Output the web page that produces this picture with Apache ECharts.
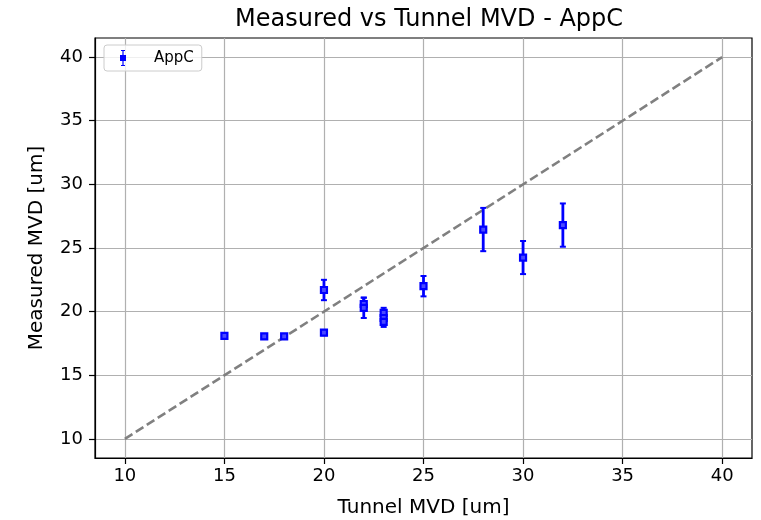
<!DOCTYPE html>
<html><head><meta charset="utf-8">
<script src="https://cdn.jsdelivr.net/npm/echarts@6/dist/echarts.min.js"></script>
<style>html,body{margin:0;padding:0;background:#fff}#c{width:761px;height:520px}</style>
</head><body><div id="c"></div>
<script>
const tunnelMVD = [15, 17, 18, 20, 20, 22, 22, 23, 23, 23, 25, 28, 30, 32];
const measuredMVD = [18.1, 18.05, 18.05, 18.35, 21.7, 20.6, 20.3, 19.9, 19.5, 19.2, 22.0, 26.45, 24.25, 26.8];
const errMVD = [0.1, 0.05, 0.05, 0.2, 0.8, 0.5, 0.8, 0.4, 0.5, 0.4, 0.8, 1.7, 1.3, 1.7];
const tickValues = [10, 15, 20, 25, 30, 35, 40];
const diagLine = [[10, 10], [40, 40]];

const pts = tunnelMVD.map((x, i) => [x, measuredMVD[i]]);
const errs = tunnelMVD.map((x, i) => [x, measuredMVD[i] - errMVD[i], measuredMVD[i] + errMVD[i]]);
const font = 'DejaVu Sans';

function axisCommon(name, gap, rot, margin) {
  return {
    type: 'value', min: 8.5, max: 41.5,
    name: name, nameLocation: 'middle', nameGap: gap, nameRotate: rot,
    nameTextStyle: {fontFamily: font, fontSize: 20, color: '#000'},
    axisLine: {show: true, onZero: false, lineStyle: {color: '#000', width: 1.2}},
    axisTick: {show: true, inside: false, length: 6, customValues: tickValues, lineStyle: {color: '#000', width: 1.2}},
    axisLabel: {customValues: tickValues, fontFamily: font, fontSize: 18, color: '#000', margin: margin},
    splitLine: {show: true, lineStyle: {color: '#b0b0b0', width: 1.2}}
  };
}

const chart = echarts.init(document.getElementById('c'), null, {renderer: 'canvas'});
chart.setOption({
  animation: false,
  backgroundColor: '#fff',
  title: {text: 'Measured vs Tunnel MVD - AppC', left: 230, top: 3,
    textStyle: {fontFamily: font, fontSize: 24, fontWeight: 'normal', color: '#000'}},
  grid: {left: 95, right: 9, top: 38, bottom: 62, containLabel: false, outerBoundsMode: 'none',
    show: true, borderColor: '#000', borderWidth: 1.2, backgroundColor: 'transparent'},
  legend: {
    left: 104, top: 45, orient: 'vertical',
    data: [{name: 'AppC', icon: 'path://M2,0 H6 V1 H4.6 V5 H7 V11 H4.6 V15 H6 V16 H2 V15 H3.4 V11 H1 V5 H3.4 V1 H2 Z'}],
    itemWidth: 8, itemHeight: 16, itemGap: 0,
    padding: [5, 8, 5, 16],
    borderColor: '#ccc', borderWidth: 1, borderRadius: 3, backgroundColor: 'rgba(255,255,255,0.8)',
    textStyle: {fontFamily: font, fontSize: 15, color: '#000', padding: [0, 0, 0, 22]},
    itemStyle: {color: '#0000ff'}
  },
  xAxis: axisCommon('Tunnel MVD [um]', 40, 0, 9),
  yAxis: axisCommon('Measured MVD [um]', 48, 90, 12),
  series: [
    {
      type: 'line', data: diagLine, symbol: 'none', silent: true,
      lineStyle: {color: '#808080', width: 2.6, type: [9, 4]}, z: 2
    },
    {
      type: 'custom', name: 'AppC', data: errs, z: 3,
      renderItem: function (params, api) {
        const x = api.value(0);
        const lo = api.coord([x, api.value(1)]);
        const hi = api.coord([x, api.value(2)]);
        const cw = 3;
        const st = {stroke: '#0000ff', lineWidth: 2.8};
        return {type: 'group', children: [
          {type: 'line', shape: {x1: lo[0], y1: lo[1], x2: hi[0], y2: hi[1]}, style: st},
          {type: 'line', shape: {x1: lo[0] - cw, y1: lo[1], x2: lo[0] + cw, y2: lo[1]}, style: {stroke: '#0000ff', lineWidth: 2}},
          {type: 'line', shape: {x1: hi[0] - cw, y1: hi[1], x2: hi[0] + cw, y2: hi[1]}, style: {stroke: '#0000ff', lineWidth: 2}}
        ]};
      },
      encode: {x: 0, y: [1, 2]}
    },
    {
      type: 'scatter', name: 'AppC', data: pts, symbol: 'rect', symbolSize: 6, z: 4,
      itemStyle: {color: '#4a4aff', borderColor: '#0000ff', borderWidth: 2.2, opacity: 1}
    }
  ]
});
</script></body></html>
